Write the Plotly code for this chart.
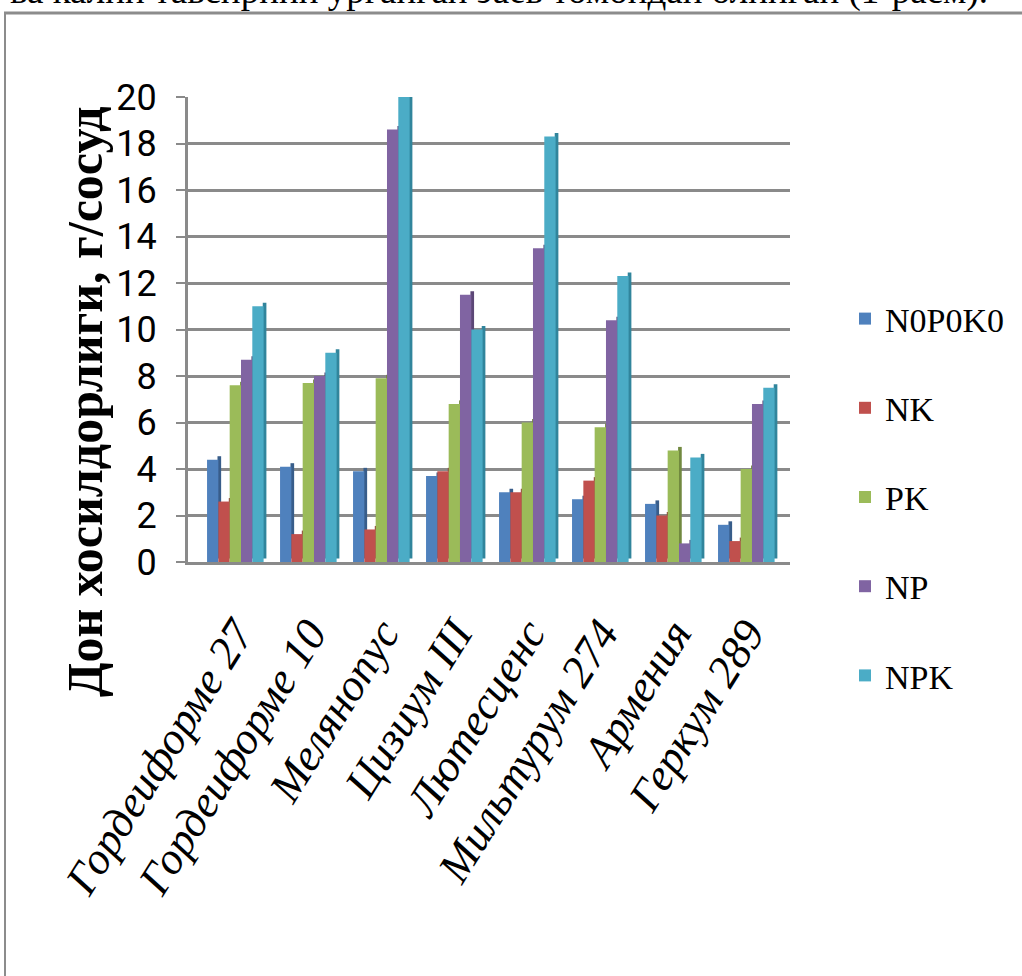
import plotly.graph_objects as go

# Varieties (x categories) and grain yield per treatment, g/vessel
varieties = ["Гордеиформе 27", "Гордеиформе 10", "Мелянопус", "Цизиум III",
             "Лютесценс", "Мильтурум 274", "Армения", "Геркум 289"]
n0p0k0 = [4.4, 4.1, 3.9, 3.7, 3.0, 2.7, 2.5, 1.6]
nk = [2.6, 1.2, 1.4, 3.9, 3.0, 3.5, 2.0, 0.9]
pk = [7.6, 7.7, 7.9, 6.8, 6.0, 5.8, 4.8, 4.0]
np_ = [8.7, 8.0, 18.6, 11.5, 13.5, 10.4, 0.8, 6.8]
npk = [11.0, 9.0, 20.0, 10.0, 18.3, 12.3, 4.5, 7.5]

series_names = ["N0P0K0", "NK", "PK", "NP", "NPK"]
series_values = [n0p0k0, nk, pk, np_, npk]
face_colors = ["#4F81BD", "#C0504D", "#9BBB59", "#8064A2", "#4BACC6"]
side_colors = ["#385D8A", "#8C3836", "#71893F", "#5C4776", "#31859C"]

y_ticks = list(range(0, 21, 2))

SERIF = "Liberation Serif, Times New Roman, serif"
SANS_NARROW = "Liberation Sans Narrow, Roboto, Liberation Sans, sans-serif"

# Page geometry (pixels)
W, H = 1022, 976
ML, MR, MT, MB = 188, 232, 97, 414
PW, PH = W - ML - MR, H - MT - MB


def px_x(x):
    return (x - ML) / PW


def px_y(y):
    return (H - MB - y) / PH


BAR_W = 0.155
START = -0.397
SIDE_W = 0.05
SIDE_LIFT = 0.15

fig = go.Figure()

# darker side faces give the columns a slight 3-D look
for k, (name, vals) in enumerate(zip(series_names, series_values)):
    fig.add_trace(go.Bar(
        x=varieties, y=vals, base=SIDE_LIFT,
        offset=START + BAR_W * k + BAR_W - 0.012, width=SIDE_W,
        marker=dict(color=side_colors[k], line=dict(width=0)),
        legendgroup=name, showlegend=False, hoverinfo="skip",
    ))

# front faces
for k, (name, vals) in enumerate(zip(series_names, series_values)):
    fig.add_trace(go.Bar(
        x=varieties, y=vals, name=name,
        offset=START + BAR_W * k, width=BAR_W,
        marker=dict(color=face_colors[k], line=dict(width=0)),
        legendgroup=name,
    ))

grid_col = "#8a8a8a"

fig.update_layout(
    width=W, height=H,
    margin=dict(l=ML, r=MR, t=MT, b=MB, autoexpand=False),
    barmode="overlay",
    paper_bgcolor="white", plot_bgcolor="white",
    showlegend=True,
    legend=dict(
        x=px_x(845), y=px_y(290), xanchor="left", yanchor="top",
        font=dict(family=SERIF, size=34, color="black"),
        traceorder="grouped", tracegroupgap=42,
        bgcolor="rgba(0,0,0,0)",
    ),
    xaxis=dict(
        range=[-0.658, 7.589], showgrid=False,
        showline=True, linecolor=grid_col, linewidth=3,
        ticks="", tickangle=-58, ticklabelstandoff=24,
        tickfont=dict(family=SERIF, size=45, color="black", style="italic"),
        automargin=False,
    ),
    yaxis=dict(
        range=[0, 20], tickvals=y_ticks,
        showgrid=True, gridcolor=grid_col, gridwidth=3,
        zeroline=False,
        showline=True, linecolor=grid_col, linewidth=3,
        ticks="outside", ticklen=9, tickwidth=2, tickcolor=grid_col,
        ticklabelstandoff=12,
        tickfont=dict(family=SANS_NARROW, size=36, color="black"),
        automargin=False,
    ),
    font=dict(family=SERIF, color="black"),
)

# y-axis caption
fig.add_annotation(
    text="<b>Дон хосилдорлиги, г/сосуд</b>",
    xref="paper", yref="paper", x=px_x(85), y=px_y(402),
    xanchor="center", yanchor="middle", textangle=-90, showarrow=False,
    font=dict(family=SERIF, size=50, color="black"),
)

# running text line of the page above the figure frame
fig.add_annotation(
    text="ва калин тавсирини урганган эаев томондан олинган (1-расм).",
    xref="paper", yref="paper", x=px_x(8), y=px_y(14),
    xanchor="left", yanchor="bottom", showarrow=False,
    font=dict(family=SERIF, size=37, color="black"),
)

# figure frame
frame_col = "#8c8c8c"
fig.add_shape(type="line", xref="paper", yref="paper",
              x0=px_x(4), x1=px_x(1040), y0=px_y(13), y1=px_y(13),
              line=dict(color=frame_col, width=3))
fig.add_shape(type="line", xref="paper", yref="paper",
              x0=px_x(5), x1=px_x(5), y0=px_y(12), y1=px_y(1000),
              line=dict(color=frame_col, width=2))

fig.write_html("out.html")
